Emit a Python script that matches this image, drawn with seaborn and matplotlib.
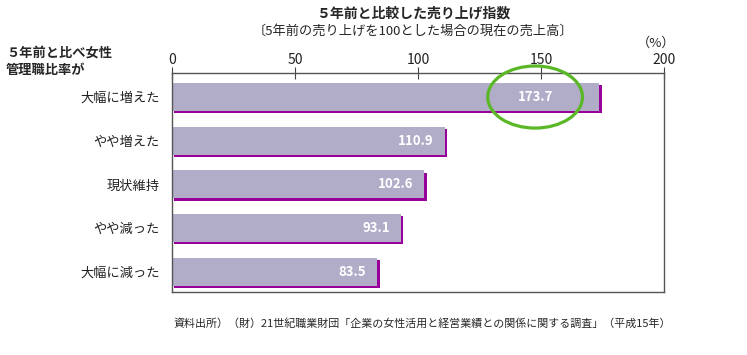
import matplotlib
matplotlib.use("Agg")
import matplotlib.pyplot as plt
import matplotlib.patheffects as pe
from matplotlib.patches import Ellipse
import pandas as pd
import seaborn as sns

categories = ["大幅に増えた", "やや増えた", "現状維持", "やや減った", "大幅に減った"]
values = [173.7, 110.9, 102.6, 93.1, 83.5]
ticks = [0, 50, 100, 150, 200]

title = "５年前と比較した売り上げ指数"
subtitle = "〔5年前の売り上げを100とした場合の現在の売上高〕"
header = "５年前と比べ女性\n管理職比率が"
source = "資料出所）（財）21世紀職業財団「企業の女性活用と経営業績との関係に関する調査」（平成15年）"

sns.set_style("white")
plt.rcParams["font.family"] = ["Noto Sans CJK JP", "DejaVu Sans"]

df = pd.DataFrame({"cat": categories, "val": values})

fig = plt.figure(figsize=(7.47, 3.55), dpi=100)
ax = fig.add_axes([0.2303, 0.1775, 0.6586, 0.6169])

sns.barplot(data=df, y="cat", x="val", orient="h", color="#b1adc8",
            saturation=1, width=0.64, ax=ax)

shadow = [pe.SimplePatchShadow(offset=(1.6, -1.6), shadow_rgbFace="#990099", alpha=1),
          pe.Normal()]
for p in ax.patches:
    p.set_path_effects(shadow)
    p.set_edgecolor("none")

ax.set_xlim(0, 200)
ax.set_ylim(4.46, -0.55)
ax.xaxis.tick_top()
ax.set_xticks(ticks)
ax.set_xticklabels([str(t) for t in ticks], fontsize=10, color="#222222")
ax.tick_params(axis="x", direction="inout", length=8, width=0.8, color="#444444", pad=0.5)
ax.tick_params(axis="y", length=0, labelsize=9.5, pad=9, labelcolor="#222222")
ax.set_xlabel("")
ax.set_ylabel("")
for s in ax.spines.values():
    s.set_visible(True)
    s.set_color("#555555")
    s.set_linewidth(1.0)

# value labels (the top one sits in the highlighted ellipse)
ell_x = 147.6
for i, v in enumerate(values):
    if i == 0:
        ax.text(ell_x, i, f"{v}", ha="center", va="center", color="white",
                fontsize=9.5, fontweight="bold")
    else:
        ax.text(v - 4.5, i, f"{v}", ha="right", va="center", color="white",
                fontsize=9.5, fontweight="bold")

ax.add_patch(Ellipse((ell_x, 0), 38.5, 1.42, fill=False, edgecolor="#5ab827",
                     linewidth=2.3, clip_on=False, zorder=5))

fig.text(0.553, 0.962, title, ha="center", va="center", fontsize=10, fontweight="bold")
fig.text(0.553, 0.912, subtitle, ha="center", va="center", fontsize=9.5)
fig.text(0.008, 0.828, header, ha="left", va="center", fontsize=9.5,
         fontweight="bold", linespacing=1.35)
fig.text(0.878, 0.877, "（%）", ha="center", va="center", fontsize=9.5)
fig.text(0.232, 0.088, source, ha="left", va="center", fontsize=7.9)

fig.savefig("out.png", dpi=100)
